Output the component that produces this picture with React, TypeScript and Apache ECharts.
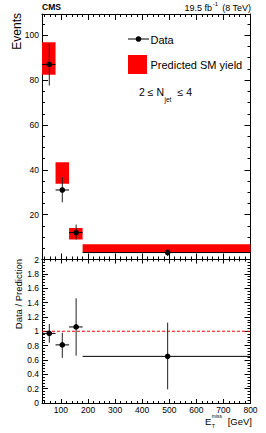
import React, { useEffect, useRef } from 'react';
import * as echarts from 'echarts';

// ---- data ----
const binLo = [30, 80, 130, 180];
const binHi = [80, 130, 180, 800];
const dataX = [57, 105, 156, 494];
const dataY = [87, 31, 12, 3.1];
const dataYLo = [77.6, 25.5, 8.9, 1.6];
const dataYHi = [96.3, 36.7, 15.6, 4.6];
const predLo = [82.4, 33.8, 8.9, 3.2];
const predHi = [96.9, 43.4, 14.1, 6.8];
const ratio = [0.97, 0.81, 1.06, 0.65];
const ratioLo = [0.84, 0.63, 0.66, 0.19];
const ratioHi = [1.1, 0.98, 1.46, 1.12];

// ---- tick labels ----
const xTickLabels = [100, 200, 300, 400, 500, 600, 700, 800];
const yTopTickLabels = [20, 40, 60, 80, 100];
const yRatioTickLabels = [0, 0.2, 0.4, 0.6, 0.8, 1, 1.2, 1.4, 1.6, 1.8, 2];

const X_MIN = 30, X_MAX = 800;
const YT_MIN = 0, YT_MAX = 109.5;
const YR_MIN = 0, YR_MAX = 2;

function minorValues(min: number, max: number, step: number, majorStep: number) {
  const out: number[] = [];
  const start = Math.ceil(min / step - 1e-9);
  for (let i = start; i * step <= max + 1e-9; i++) {
    const v = +(i * step).toFixed(6);
    const r = Math.abs(v / majorStep - Math.round(v / majorStep));
    if (r > 1e-6 && v >= min) out.push(v);
  }
  return out;
}

const TICK_FONT = "'Liberation Sans Narrow', 'Liberation Sans', Arial, sans-serif";
const TEXT_FONT = "'Liberation Sans', Arial, Helvetica, sans-serif";

function mkAxis(
  gridIndex: number,
  position: string,
  min: number,
  max: number,
  ticks: number[],
  len: number,
  showLine: boolean,
  labels?: number[],
  fmt?: (v: number) => string,
  margin = 3,
) {
  return {
    type: 'value',
    gridIndex,
    position,
    min,
    max,
    axisLine: { show: showLine, onZero: false, lineStyle: { color: '#000', width: 1 } },
    axisTick: { show: true, inside: true, length: len, customValues: ticks, lineStyle: { color: '#000', width: 1 } },
    axisLabel: labels
      ? {
          show: true,
          customValues: labels,
          fontSize: 8.5,
          lineHeight: 8,
          fontFamily: TICK_FONT,
          color: '#000',
          margin,
          formatter: fmt || ((v: number) => String(v)),
        }
      : { show: false },
    splitLine: { show: false },
    minorTick: { show: false },
  } as any;
}

export default function App() {
  const ref = useRef<HTMLDivElement>(null);
  useEffect(() => {
    if (!ref.current) return;
    const chart = echarts.init(ref.current, undefined, { renderer: 'svg' });

    const xMinor = minorValues(X_MIN, X_MAX, 20, 100);
    const ytMinor = minorValues(YT_MIN, YT_MAX, 5, 20);
    const yrMinor = minorValues(YR_MIN, YR_MAX, 0.04, 0.2);
    const yrMajor = yRatioTickLabels;
    const ytMajor = [0, ...yTopTickLabels];
    const ratioFmt = (v: number) => String(+(+v).toFixed(1));

    const xAxis = [
      mkAxis(0, 'bottom', X_MIN, X_MAX, xTickLabels, 6, true),
      mkAxis(0, 'top', X_MIN, X_MAX, xTickLabels, 6, true),
      mkAxis(0, 'bottom', X_MIN, X_MAX, xMinor, 3, false),
      mkAxis(0, 'top', X_MIN, X_MAX, xMinor, 3, false),
      mkAxis(1, 'bottom', X_MIN, X_MAX, xTickLabels, 4, true, xTickLabels, undefined, 2.5),
      mkAxis(1, 'top', X_MIN, X_MAX, xTickLabels, 4, true),
      mkAxis(1, 'bottom', X_MIN, X_MAX, xMinor, 2, false),
      mkAxis(1, 'top', X_MIN, X_MAX, xMinor, 2, false),
    ];
    const yAxis = [
      mkAxis(0, 'left', YT_MIN, YT_MAX, ytMajor, 6, true, yTopTickLabels),
      mkAxis(0, 'right', YT_MIN, YT_MAX, ytMajor, 6, true),
      mkAxis(0, 'left', YT_MIN, YT_MAX, ytMinor, 3, false),
      mkAxis(0, 'right', YT_MIN, YT_MAX, ytMinor, 3, false),
      mkAxis(1, 'left', YR_MIN, YR_MAX, yrMajor, 6, true, yRatioTickLabels, ratioFmt),
      mkAxis(1, 'right', YR_MIN, YR_MAX, yrMajor, 6, true),
      mkAxis(1, 'left', YR_MIN, YR_MAX, yrMinor, 3, false),
      mkAxis(1, 'right', YR_MIN, YR_MAX, yrMinor, 3, false),
    ];

    const errRender = (params: any, api: any) => {
      const x = api.value(0), y = api.value(1);
      const xl = api.value(2), xh = api.value(3);
      const yl = api.value(4), yh = api.value(5);
      const c = api.coord([x, y]);
      const l = api.coord([xl, y]);
      const r = api.coord([xh, y]);
      const t = api.coord([x, yh]);
      const b = api.coord([x, yl]);
      return {
        type: 'group',
        children: [
          { type: 'line', shape: { x1: l[0], y1: c[1], x2: r[0], y2: c[1] }, style: { stroke: '#000', lineWidth: 1 } },
          { type: 'line', shape: { x1: c[0], y1: t[1], x2: c[0], y2: b[1] }, style: { stroke: '#222', lineWidth: 1 } },
          { type: 'circle', shape: { cx: c[0], cy: c[1], r: 2.8 }, style: { fill: '#000' } },
        ],
      };
    };

    const topErrData = dataX.map((x, i) => [x, dataY[i], binLo[i], binHi[i], dataYLo[i], dataYHi[i]]);
    const ratioErrData = dataX.map((x, i) => [x, ratio[i], binLo[i], binHi[i], ratioLo[i], ratioHi[i]]);
    const predData = binLo.map((l, i) => [l, binHi[i], predLo[i], predHi[i]]);

    const option: any = {
      animation: false,
      backgroundColor: '#fff',
      grid: [
        { left: 42, top: 14, width: 208.5, height: 245.5 },
        { left: 42, top: 259.5, width: 208.5, height: 143.5 },
      ],
      xAxis,
      yAxis,
      series: [
        {
          type: 'custom',
          xAxisIndex: 0,
          yAxisIndex: 0,
          data: predData,
          encode: { x: [0, 1], y: [2, 3] },
          clip: true,
          z: 2,
          renderItem: (params: any, api: any) => {
            const p0 = api.coord([api.value(0), api.value(3)]);
            const p1 = api.coord([api.value(1), api.value(2)]);
            return {
              type: 'rect',
              shape: { x: p0[0], y: p0[1], width: p1[0] - p0[0], height: p1[1] - p0[1] },
              style: { fill: '#ff0000' },
            };
          },
        },
        {
          type: 'custom',
          xAxisIndex: 0,
          yAxisIndex: 0,
          data: topErrData,
          encode: { x: [0, 2, 3], y: [1, 4, 5] },
          clip: true,
          z: 3,
          renderItem: errRender,
        },
        {
          type: 'line',
          xAxisIndex: 4,
          yAxisIndex: 4,
          data: [[X_MIN, 1], [X_MAX, 1]],
          symbol: 'none',
          lineStyle: { color: '#ff0000', width: 1, type: [3, 2] },
          z: 2,
        },
        {
          type: 'custom',
          xAxisIndex: 4,
          yAxisIndex: 4,
          data: ratioErrData,
          encode: { x: [0, 2, 3], y: [1, 4, 5] },
          clip: true,
          z: 3,
          renderItem: errRender,
        },
      ],
      graphic: [
        { type: 'text', x: 42, y: 7, style: { text: 'CMS', font: `bold 8.5px ${TEXT_FONT}`, fill: '#000', verticalAlign: 'middle', align: 'left' } },
        { type: 'text', x: 251, y: 7.5, style: { text: '(8 TeV)', font: `9px ${TEXT_FONT}`, fill: '#000', verticalAlign: 'middle', align: 'right' } },
        { type: 'text', x: 218, y: 4, style: { text: '-1', font: `6px ${TEXT_FONT}`, fill: '#000', verticalAlign: 'middle', align: 'right' } },
        { type: 'text', x: 212, y: 7.5, style: { text: '19.5 fb', font: `9px ${TEXT_FONT}`, fill: '#000', verticalAlign: 'middle', align: 'right' } },
        // y titles
        { type: 'text', x: 17, y: 13, rotation: Math.PI / 2, style: { text: 'Events', font: `12px ${TEXT_FONT}`, fill: '#000', verticalAlign: 'middle', align: 'right' } },
        { type: 'text', x: 18.5, y: 259, rotation: Math.PI / 2, style: { text: 'Data / Prediction', font: `9.5px ${TEXT_FONT}`, fill: '#000', verticalAlign: 'middle', align: 'right' } },
        // x title
        { type: 'text', x: 205, y: 421.5, style: { text: 'E', font: `9.5px ${TEXT_FONT}`, fill: '#000', verticalAlign: 'middle', align: 'left' } },
        { type: 'text', x: 211.8, y: 416.2, style: { text: 'miss', font: `5px ${TEXT_FONT}`, fill: '#000', verticalAlign: 'middle', align: 'left' } },
        { type: 'text', x: 211.8, y: 426, style: { text: 'T', font: `5.5px ${TEXT_FONT}`, fill: '#000', verticalAlign: 'middle', align: 'left' } },
        { type: 'text', x: 252, y: 421.5, style: { text: '[GeV]', font: `9.5px ${TEXT_FONT}`, fill: '#000', verticalAlign: 'middle', align: 'right' } },
        // legend
        { type: 'line', shape: { x1: 128, y1: 39, x2: 149, y2: 39 }, style: { stroke: '#000', lineWidth: 1 } },
        { type: 'circle', shape: { cx: 138.5, cy: 39, r: 2.8 }, style: { fill: '#000' } },
        { type: 'text', x: 150.5, y: 39.5, style: { text: 'Data', font: `11px ${TEXT_FONT}`, fill: '#000', verticalAlign: 'middle', align: 'left' } },
        { type: 'rect', shape: { x: 128, y: 55, width: 19, height: 19 }, style: { fill: '#ff0000' } },
        { type: 'text', x: 150.5, y: 64.5, style: { text: 'Predicted SM yield', font: `11px ${TEXT_FONT}`, fill: '#000', verticalAlign: 'middle', align: 'left' } },
        { type: 'text', x: 139, y: 92, style: { text: '2 ≤ N', font: `10.5px ${TEXT_FONT}`, fill: '#000', verticalAlign: 'middle', align: 'left' } },
        { type: 'text', x: 164.5, y: 99, style: { text: 'jet', font: `6.5px ${TEXT_FONT}`, fill: '#000', verticalAlign: 'middle', align: 'left' } },
        { type: 'text', x: 177.5, y: 92, style: { text: '≤ 4', font: `10.5px ${TEXT_FONT}`, fill: '#000', verticalAlign: 'middle', align: 'left' } },
      ],
    };
    chart.setOption(option);
    return () => chart.dispose();
  }, []);
  return <div ref={ref} style={{ position: 'fixed', left: 0, top: 0, width: 266, height: 433 }} />;
}
